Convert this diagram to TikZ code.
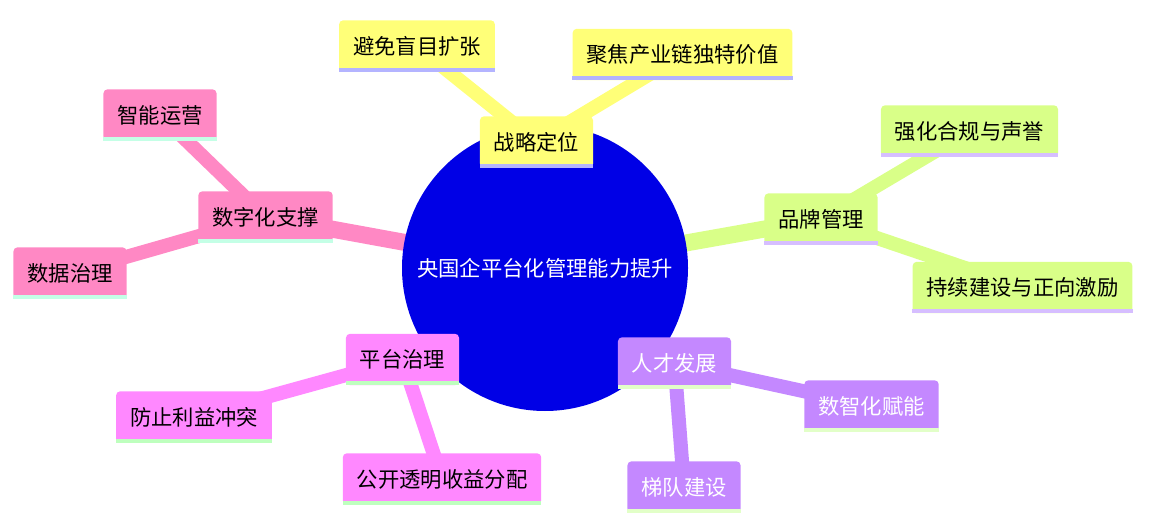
\documentclass[tikz,border=0pt]{standalone}
\usepackage{fontspec}
\setmainfont{Noto Sans CJK SC}

\definecolor{rootblue}{RGB}{0,0,230}
\definecolor{ylw}{RGB}{255,255,120}
\definecolor{ylwline}{RGB}{180,180,255}
\definecolor{pnk}{RGB}{255,136,196}
\definecolor{pnkline}{RGB}{196,255,230}
\definecolor{grn}{RGB}{217,255,136}
\definecolor{grnline}{RGB}{214,190,255}
\definecolor{mgt}{RGB}{255,136,255}
\definecolor{mgtline}{RGB}{190,255,190}
\definecolor{ppl}{RGB}{196,136,255}
\definecolor{pplline}{RGB}{226,255,200}

\pgfdeclarelayer{bg}
\pgfsetlayers{bg,main}

\tikzset{
    idea/.style={rounded corners=3pt, inner xsep=10.4pt, inner ysep=0pt, minimum height=38.5pt,
        font=\fontsize{16pt}{19pt}\selectfont, text=black},
    trunk/.style={line width=12.75pt},
    twig/.style={line width=10.5pt}
}

\begin{document}
\begin{tikzpicture}[x=0.75pt,y=-0.75pt]
    \useasboundingbox (0,0) rectangle (1149,527);
    \node[circle, fill=rootblue, minimum size=214.5pt, inner sep=0pt, text=white,
        font=\fontsize{16pt}{19pt}\selectfont] (root) at (545,268) {央国企平台化管理能力提升};

    \node[idea, fill=ylw] (zl) at (536.5,142) {战略定位};
    \node[idea, fill=ylw] (bm) at (417,46) {避免盲目扩张};
    \node[idea, fill=ylw] (jj) at (682.5,54.5) {聚焦产业链独特价值};

    \node[idea, fill=pnk] (sz) at (265.5,217) {数字化支撑};
    \node[idea, fill=pnk] (zn) at (160,115) {智能运营};
    \node[idea, fill=pnk] (sj) at (70,273) {数据治理};

    \node[idea, fill=grn] (pp) at (821,219) {品牌管理};
    \node[idea, fill=grn] (qh) at (969.5,131) {强化合规与声誉};
    \node[idea, fill=grn] (cx) at (1022.5,287.5) {持续建设与正向激励};

    \node[idea, fill=mgt] (pt) at (402.5,359.5) {平台治理};
    \node[idea, fill=mgt] (fz) at (194,417) {防止利益冲突};
    \node[idea, fill=mgt] (gk) at (442,479) {公开透明收益分配};

    \node[idea, fill=ppl, text=white] (rc) at (674.5,363) {人才发展};
    \node[idea, fill=ppl, text=white] (sh) at (871.5,406) {数智化赋能};
    \node[idea, fill=ppl, text=white] (td) at (684,487) {梯队建设};

    \foreach \n/\c in {zl/ylwline, bm/ylwline, jj/ylwline, sz/pnkline, zn/pnkline, sj/pnkline,
        pp/grnline, qh/grnline, cx/grnline, pt/mgtline, fz/mgtline, gk/mgtline,
        rc/pplline, sh/pplline, td/pplline}
        \fill[\c] (\n.south west) rectangle ([yshift=3pt]\n.south east);

    \begin{pgfonlayer}{bg}
        \draw[trunk, ylw] (root.center) -- (zl.center);
        \draw[twig, ylw] (zl.center) -- (bm.center);
        \draw[twig, ylw] (zl.center) -- (jj.center);
        \draw[trunk, pnk] (root.center) -- (sz.center);
        \draw[twig, pnk] (sz.center) -- (zn.center);
        \draw[twig, pnk] (sz.center) -- (sj.center);
        \draw[trunk, grn] (root.center) -- (pp.center);
        \draw[twig, grn] (pp.center) -- (qh.center);
        \draw[twig, grn] (pp.center) -- (cx.center);
        \draw[trunk, mgt] (root.center) -- (pt.center);
        \draw[twig, mgt] (pt.center) -- (fz.center);
        \draw[twig, mgt] (pt.center) -- (gk.center);
        \draw[trunk, ppl] (root.center) -- (rc.center);
        \draw[twig, ppl] (rc.center) -- (sh.center);
        \draw[twig, ppl] (rc.center) -- (td.center);
    \end{pgfonlayer}
\end{tikzpicture}
\end{document}
